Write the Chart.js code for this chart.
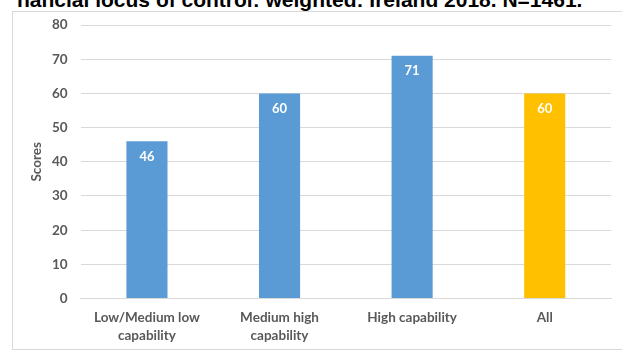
<!DOCTYPE html>
<html>
<head>
<meta charset="utf-8">
<script src="https://cdn.jsdelivr.net/npm/chart.js@4"></script>
<style>
  html, body { margin: 0; padding: 0; background: #fff; }
  #wrap { position: relative; width: 622px; height: 352px; overflow: hidden; }
  #title { position: absolute; left: 17px; top: -12px; font: bold 21px "Liberation Sans", Arial, sans-serif; color: #000; white-space: nowrap; }
  #box { position: absolute; left: 12px; top: 11px; width: 620px; height: 337px; border: 1px solid #d9d9d9; }
  #graph { position: absolute; left: 0; top: 0; }
</style>
</head>
<body>
<div id="wrap">
  <div id="title">nancial locus of control: weighted: Ireland 2018. N=1461.</div>
  <div id="box"></div>
  <canvas id="graph" width="622" height="352"></canvas>
</div>
<script>
var categories = [['Low/Medium low', 'capability'], ['Medium high', 'capability'], 'High capability', 'All'];
var scores = [46, 60, 71, 60];
var barColors = ['#5b9bd5', '#5b9bd5', '#5b9bd5', '#ffc000'];
var yTicks = [0, 10, 20, 30, 40, 50, 60, 70, 80];
var yTitle = 'Scores';

var fontFamily = 'Lato, "Open Sans", sans-serif';
var tickFont = { family: fontFamily, size: 13.5, weight: 'bold', lineHeight: 1.35 };

// white value labels inside the top of each bar, plus the rotated y title
var valueLabels = {
  id: 'valueLabels',
  afterDatasetsDraw: function(chart) {
    var ctx = chart.ctx;
    var meta = chart.getDatasetMeta(0);
    ctx.save();
    ctx.fillStyle = '#ffffff';
    ctx.font = 'bold 13px ' + fontFamily;
    ctx.textAlign = 'center';
    ctx.textBaseline = 'top';
    meta.data.forEach(function(bar, i) {
      ctx.fillText(scores[i], bar.x, bar.y + 9);
    });
    ctx.restore();

    var area = chart.chartArea;
    ctx.save();
    ctx.translate(37, (area.top + area.bottom) / 2);
    ctx.rotate(-Math.PI / 2);
    ctx.fillStyle = '#595959';
    ctx.font = 'bold 13.5px ' + fontFamily;
    ctx.textAlign = 'center';
    ctx.textBaseline = 'middle';
    ctx.fillText(yTitle, 0, 0);
    ctx.restore();
  }
};

const chart = new Chart(document.getElementById('graph'), {
  type: 'bar',
  data: {
    labels: categories,
    datasets: [{
      data: scores,
      backgroundColor: barColors,
      barPercentage: 0.62,
      categoryPercentage: 0.5
    }]
  },
  options: {
    responsive: false,
    animation: false,
    layout: { padding: { left: 39, right: 11, top: 25, bottom: 5 } },
    plugins: { legend: { display: false }, tooltip: { enabled: false } },
    scales: {
      x: {
        grid: { display: false },
        border: { color: '#d9d9d9' },
        ticks: { color: '#595959', font: tickFont, padding: 2, maxRotation: 0 }
      },
      y: {
        min: 0, max: 80,
        afterBuildTicks: function(axis) { axis.ticks = yTicks.map(function(v) { return { value: v }; }); },
        grid: { color: '#d9d9d9', drawTicks: false },
        border: { display: false },
        ticks: { color: '#595959', font: tickFont, padding: 13 }
      }
    }
  },
  plugins: [valueLabels]
});
</script>
</body>
</html>
